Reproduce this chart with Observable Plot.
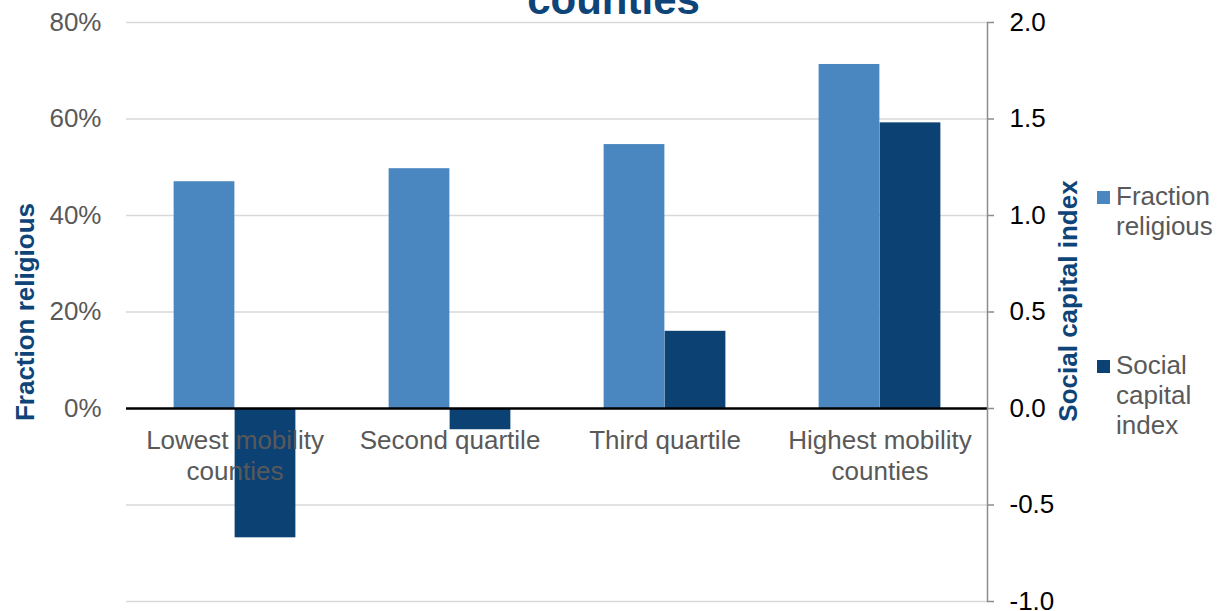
<!DOCTYPE html>
<html>
<head>
<meta charset="utf-8">
<script src="https://cdn.jsdelivr.net/npm/d3@7"></script>
<script src="https://cdn.jsdelivr.net/npm/@observablehq/plot@0.6"></script>
<style>
  body { margin: 0; background: #fff; }
  #wrap { position: relative; width: 1217px; height: 611px; overflow: hidden;
          font-family: "Liberation Sans", Arial, sans-serif; }
  .legend { position: absolute; left: 1097px; font-size: 26px; color: #595959; line-height: 30px; }
  .legend .sw { position: absolute; left: 0; width: 13px; height: 13px; }
  .legend .tx { position: absolute; left: 19px; white-space: nowrap; }
</style>
</head>
<body>
<div id="wrap"></div>
<script>
// Quartiles of county-level upward mobility
const categories = ["Lowest mobility counties", "Second quartile", "Third quartile", "Highest mobility counties"];
const categoryLabels = ["Lowest mobility\ncounties", "Second quartile", "Third quartile", "Highest mobility\ncounties"];

// Series values
const fractionReligious = [0.470, 0.497, 0.547, 0.713];   // left axis (share)
const socialCapitalIndex = [-0.67, -0.11, 0.40, 1.48];    // right axis (index)

// Axis ticks
const leftTicks = [0, 0.2, 0.4, 0.6, 0.8];
const rightTicks = [-1.0, -0.5, 0.0, 0.5, 1.0, 1.5, 2.0];

const seriesNames = ["Fraction religious", "Social capital index"];
const seriesColors = ["#4a86c0", "#0c4174"];
const titleColor = "#0e4478";

// Right axis shares the left axis frame: 2.0 on the index lines up with 80%
const RATIO = 2.5;

const width = 1217, height = 611;
const marginLeft = 126, marginRight = 230, marginTop = 22, marginBottom = 10;
const step = (width - marginLeft - marginRight) / categories.length;
const half = step / 2;
const barW = 61;

const rows = categories.map((c, i) => ({
  category: c,
  label: categoryLabels[i],
  fraction: fractionReligious[i],
  social: socialCapitalIndex[i]
}));

const chart = Plot.plot({
  width, height, marginLeft, marginRight, marginTop, marginBottom,
  style: { fontFamily: "'Liberation Sans', Arial, sans-serif", fontSize: "26px", background: "#fff" },
  x: { type: "band", domain: categories, padding: 0, axis: null },
  y: { domain: [rightTicks[0] / RATIO, rightTicks[rightTicks.length - 1] / RATIO], axis: null },
  marks: [
    Plot.gridY(rightTicks.filter(v => v !== 0).map(v => v / RATIO), {
      stroke: "#d9d9d9", strokeOpacity: 1, strokeWidth: 1.5
    }),
    Plot.barY(rows, {
      x: "category", y: "fraction", fill: seriesColors[0],
      insetLeft: half - barW, insetRight: half
    }),
    Plot.barY(rows, {
      x: "category", y: d => d.social / RATIO, fill: seriesColors[1],
      insetLeft: half, insetRight: half - barW
    }),
    Plot.ruleY([0], { stroke: "#000", strokeWidth: 2.5 }),
    Plot.frame({ anchor: "right", stroke: "#8c8c8c", strokeWidth: 1.5 }),
    Plot.text(rows, {
      x: "category", y: () => 0, text: "label",
      lineAnchor: "top", dy: 19, lineHeight: 1.17, fill: "#595959", fontSize: 26
    }),
    Plot.axisY(leftTicks, {
      anchor: "left", tickFormat: d3.format(".0%"), tickSize: 0, tickPadding: 25,
      fill: "#595959", fontSize: 26, label: null
    }),
    Plot.axisY(rightTicks.map(v => v / RATIO), {
      anchor: "right", tickFormat: d => (d * RATIO).toFixed(1), tickSize: 6, tickPadding: 16,
      stroke: "#8c8c8c", strokeWidth: 1.5, fill: "#000", fontSize: 26, label: null
    }),
    Plot.text([seriesNames[0]], {
      text: d => d, frameAnchor: "left", textAnchor: "middle", lineAnchor: "middle",
      rotate: -90, dx: -101, fontSize: 26, fontWeight: "bold", fill: titleColor
    }),
    Plot.text([seriesNames[1]], {
      text: d => d, frameAnchor: "right", textAnchor: "middle", lineAnchor: "middle",
      rotate: -90, dx: 81, dy: -11, fontSize: 26, fontWeight: "bold", fill: titleColor
    }),
    Plot.text(["counties"], {
      text: d => d, frameAnchor: "top", textAnchor: "middle", lineAnchor: "middle",
      dy: -marginTop, dx: 613 - (marginLeft + (width - marginLeft - marginRight) / 2),
      fontSize: 42, fontWeight: "bold", fill: titleColor
    })
  ]
});

const wrap = document.getElementById("wrap");
wrap.appendChild(chart);

// Legend at the right of the chart
const legendItems = [
  { name: "Fraction\nreligious", color: seriesColors[0], top: 181 },
  { name: "Social\ncapital\nindex", color: seriesColors[1], top: 350 }
];
for (const item of legendItems) {
  const el = document.createElement("div");
  el.className = "legend";
  el.style.top = item.top + "px";
  const sw = document.createElement("div");
  sw.className = "sw";
  sw.style.background = item.color;
  sw.style.top = "10px";
  const tx = document.createElement("div");
  tx.className = "tx";
  tx.innerHTML = item.name.split("\n").join("<br>");
  el.appendChild(sw);
  el.appendChild(tx);
  wrap.appendChild(el);
}
</script>
</body>
</html>
